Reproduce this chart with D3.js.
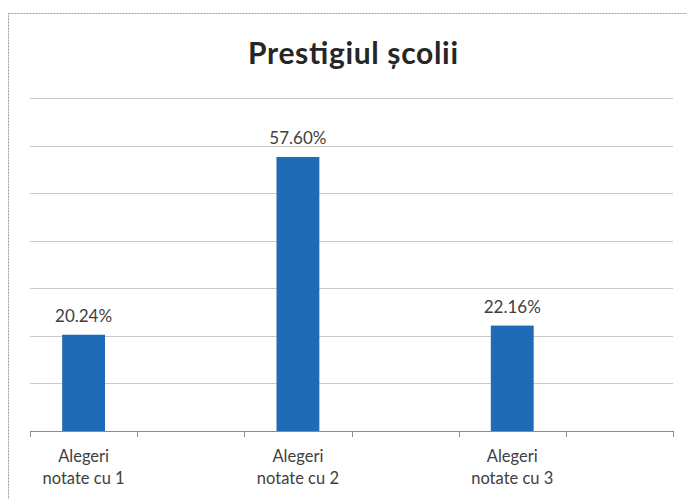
<!DOCTYPE html>
<html>
<head>
<meta charset="utf-8">
<script src="https://cdn.jsdelivr.net/npm/d3@7"></script>
<style>
  body { margin: 0; background: #fff; }
  text { font-family: Lato, "Open Sans", sans-serif; }
</style>
</head>
<body>
<svg width="687" height="499"></svg>
<script>
// categories (blank ones are empty slots on the axis)
var categories = ["c1", "b1", "c2", "b2", "c3", "b3"];
var labels = [["Alegeri", "notate cu 1"], [], ["Alegeri", "notate cu 2"], [], ["Alegeri", "notate cu 3"], []];
var values = [20.24, null, 57.60, null, 22.16, null];
var yTicks = [0, 10, 20, 30, 40, 50, 60, 70];

var svg = d3.select("svg");

// chart frame
svg.append("rect")
   .attr("x", 8.5).attr("y", 13.5)
   .attr("width", 690).attr("height", 500)
   .attr("fill", "none")
   .attr("stroke", "#9a9a9a")
   .attr("stroke-dasharray", "2,1");

svg.append("text")
   .attr("x", 353)
   .attr("y", 64)
   .attr("text-anchor", "middle")
   .attr("font-size", "30px")
   .attr("font-weight", "bold")
   .attr("fill", "#262626")
   .attr("textLength", 210)
   .text("Prestigiul școlii");

var xScale = d3.scaleBand().domain(categories).range([30, 673]).paddingInner(0.6).paddingOuter(0.3),
    yScale = d3.scaleLinear().domain([0, 70]).range([431, 98]);

// gridlines
svg.append("g")
   .selectAll("line")
   .data(yTicks.slice(1))
   .enter().append("line")
   .attr("x1", 30).attr("x2", 673)
   .attr("y1", function(d) { return Math.round(yScale(d)) + 0.5; })
   .attr("y2", function(d) { return Math.round(yScale(d)) + 0.5; })
   .attr("stroke", "#c9c9c9");

// bars
svg.selectAll(".bar")
   .data(categories.filter(function(d, i) { return values[i] != null; }))
   .enter().append("rect")
   .attr("class", "bar")
   .attr("x", function(d) { return xScale(d); })
   .attr("y", function(d) { return yScale(values[categories.indexOf(d)]); })
   .attr("width", xScale.bandwidth())
   .attr("height", function(d) { return yScale(0) - yScale(values[categories.indexOf(d)]); })
   .attr("fill", "#1f6bb5");

// value labels
svg.selectAll(".val")
   .data(categories.filter(function(d, i) { return values[i] != null; }))
   .enter().append("text")
   .attr("class", "val")
   .attr("x", function(d) { return xScale(d) + xScale.bandwidth() / 2; })
   .attr("y", function(d) { return yScale(values[categories.indexOf(d)]) - 13; })
   .attr("text-anchor", "middle")
   .attr("font-size", "17px")
   .attr("fill", "#404040")
   .text(function(d) { return values[categories.indexOf(d)].toFixed(2) + "%"; });

// x axis: baseline plus boundary ticks
var step = xScale.step();
var axis = svg.append("g");
axis.append("line")
    .attr("x1", 30).attr("x2", 673)
    .attr("y1", 431.5).attr("y2", 431.5)
    .attr("stroke", "#8c8c8c");
axis.selectAll(".tick")
    .data(d3.range(categories.length + 1))
    .enter().append("line")
    .attr("x1", function(i) { return Math.round(30 + i * step) + 0.5; })
    .attr("x2", function(i) { return Math.round(30 + i * step) + 0.5; })
    .attr("y1", 431).attr("y2", 437)
    .attr("stroke", "#8c8c8c");

var lab = svg.selectAll(".lab")
   .data(categories)
   .enter().append("text")
   .attr("class", "lab")
   .attr("text-anchor", "middle")
   .attr("font-size", "16.5px")
   .attr("fill", "#404040")
   .attr("transform", function(d) { return "translate(" + (xScale(d) + xScale.bandwidth() / 2) + ",0)"; });
lab.selectAll("tspan")
   .data(function(d, i) { return labels[i]; })
   .enter().append("tspan")
   .attr("x", 0)
   .attr("y", function(d, j) { return 462 + j * 22; })
   .text(function(d) { return d; });
</script>
</body>
</html>
